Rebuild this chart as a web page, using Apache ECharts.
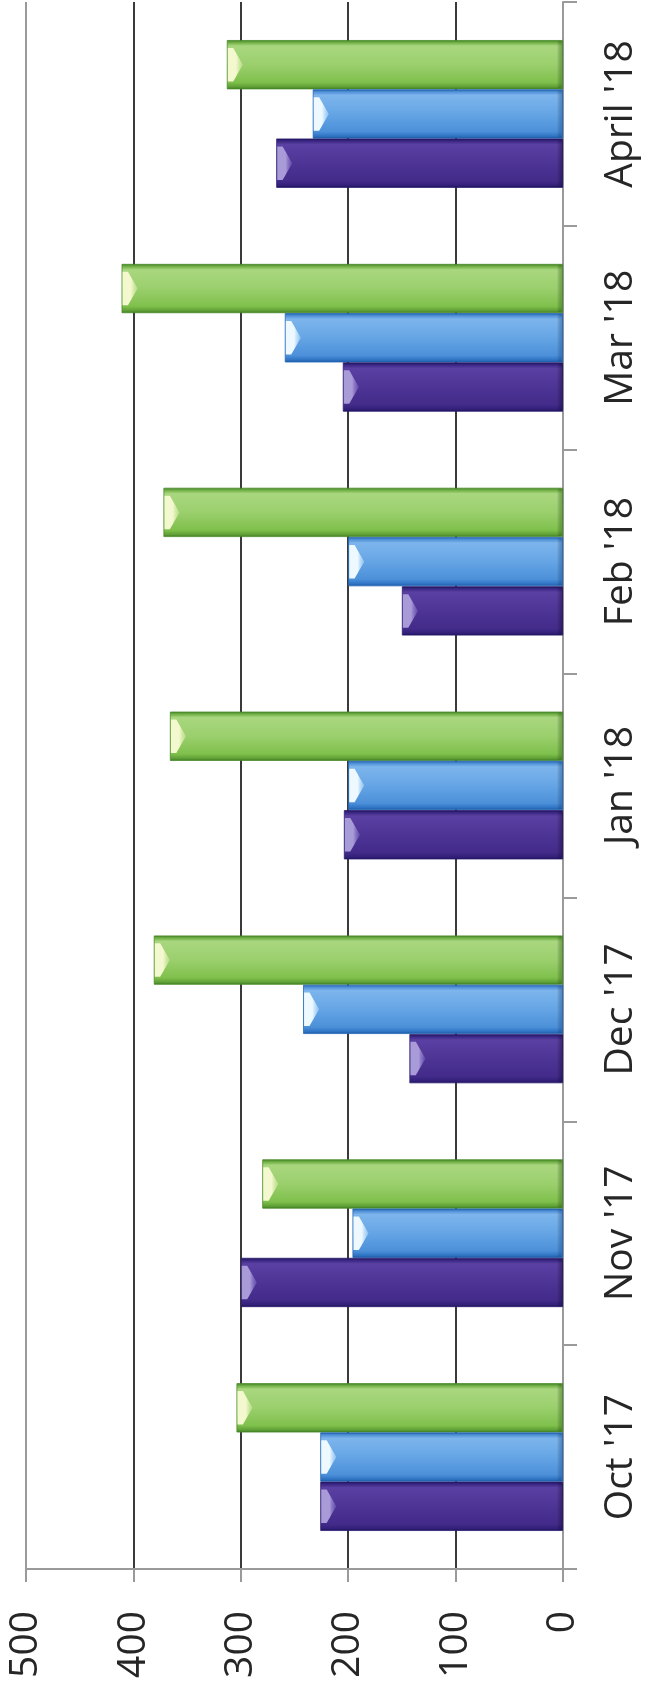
<!DOCTYPE html>
<html>
<head>
<meta charset="utf-8">
<script src="https://cdn.jsdelivr.net/npm/echarts@6/dist/echarts.min.js"></script>
<style>
  html, body { margin: 0; padding: 0; background: #ffffff; }
  #chart { width: 647px; height: 1684px; }
</style>
</head>
<body>
<div id="chart"></div>
<script>
// Monthly figures, three series per month
const months = ["Oct '17", "Nov '17", "Dec '17", "Jan '18", "Feb '18", "Mar '18", "April '18"];
const purpleValues = [226, 300, 143, 204, 150, 205, 267];
const blueValues   = [226, 196, 242, 200, 200, 259, 233];
const greenValues  = [304, 280, 381, 366, 372, 411, 313];
const valueTicks   = [0, 100, 200, 300, 400, 500];

const CATEGORY_GAP = 0.34;   // share of each band left empty
const FONT = "'Open Sans', 'Liberation Sans', sans-serif";

const palettes = {
  green: {
    body: [[0, '#3f7f22'], [0.05, '#6fae45'], [0.12, '#a9d77f'], [0.5, '#9bcf6d'], [0.86, '#7fc04c'], [0.95, '#5f9f36'], [1, '#3c7a20']],
    cap: '#f4f8cf', capMid: 'rgba(200,230,150,0.6)', base: 'rgba(70,140,40,0.55)', border: '#4a8a2a'
  },
  blue: {
    body: [[0, '#1b5aa8'], [0.05, '#4f8fd6'], [0.12, '#7db5ec'], [0.5, '#65a5e5'], [0.86, '#4c90d9'], [0.95, '#2f74c4'], [1, '#1a57a3']],
    cap: '#eef9ff', capMid: 'rgba(170,215,250,0.6)', base: 'rgba(30,100,190,0.5)', border: '#2468b5'
  },
  purple: {
    body: [[0, '#1d1358'], [0.05, '#3a2682'], [0.12, '#5a40a2'], [0.5, '#4d3495'], [0.86, '#432b8a'], [0.95, '#33207a'], [1, '#1c1256']],
    cap: '#a99ad8', capMid: 'rgba(120,100,190,0.5)', base: 'rgba(25,15,80,0.5)', border: '#2a1d70'
  }
};

function gradient(stops) {
  return {
    type: 'linear', x: 0, y: 0, x2: 0, y2: 1,
    colorStops: stops.map(s => ({ offset: s[0], color: s[1] }))
  };
}

function barSeries(name, values, pal) {
  return {
    name: name,
    type: 'bar',
    data: values,
    barGap: 0,
    barCategoryGap: (CATEGORY_GAP * 100) + '%',
    itemStyle: { color: gradient(pal.body), borderColor: pal.border, borderWidth: 0.8 },
    emphasis: { disabled: true },
    z: 2
  };
}

// Bevelled end caps drawn on top of each bar, positioned from the same scales
function capSeries(slot, values, pal) {
  return {
    type: 'custom',
    z: 3,
    silent: true,
    encode: { x: 0, y: 1 },
    data: values.map((v, i) => [v, i]),
    renderItem: function (params, api) {
      const val = api.value(0);
      const cat = api.value(1);
      const end = api.coord([val, cat]);
      const base = api.coord([0, cat]);
      const band = api.size([0, 1])[1];
      const th = band * (1 - CATEGORY_GAP) / 3;
      const top = end[1] - 1.5 * th + slot * th;
      const bot = top + th;
      const mid = (top + bot) / 2;
      const x0 = end[0];
      const xb = base[0];
      const w = Math.min(16, (xb - x0) / 3);
      return {
        type: 'group',
        children: [
          {
            type: 'polygon',
            shape: { points: [[x0 + 1, top + 0.16 * th], [x0 + w * 0.4, top + 0.16 * th], [x0 + w, mid], [x0 + w * 0.4, bot - 0.16 * th], [x0 + 1, bot - 0.16 * th]] },
            style: {
              fill: { type: 'linear', x: 0, y: 0, x2: 1, y2: 0,
                colorStops: [{ offset: 0, color: pal.cap }, { offset: 0.55, color: pal.cap }, { offset: 1, color: pal.capMid }] }
            }
          },
          {
            type: 'rect',
            shape: { x: xb - 6, y: top + 1, width: 6, height: th - 2 },
            style: {
              fill: { type: 'linear', x: 0, y: 0, x2: 1, y2: 0,
                colorStops: [{ offset: 0, color: 'rgba(0,0,0,0)' }, { offset: 1, color: pal.base }] }
            }
          }
        ]
      };
    }
  };
}

const chart = echarts.init(document.getElementById('chart'), null, { renderer: 'canvas' });

chart.setOption({
  backgroundColor: '#ffffff',
  animation: false,
  grid: { left: 26, right: 84, top: 2, bottom: 115, containLabel: false, outerBoundsMode: 'none' },
  xAxis: {
    type: 'value',
    inverse: true,
    position: 'bottom',
    min: valueTicks[0],
    max: valueTicks[valueTicks.length - 1],
    interval: valueTicks[1] - valueTicks[0],
    axisLine: { show: true, onZero: false, lineStyle: { color: '#9a9a9a', width: 2 } },
    axisTick: { show: true, length: 13, lineStyle: { color: '#9a9a9a', width: 2 } },
    axisLabel: {
      rotate: 90, margin: 42, fontSize: 39, color: '#262626', fontFamily: FONT
    },
    splitLine: {
      show: true,
      lineStyle: { color: ['#9a9a9a', '#3a3a3a', '#3a3a3a', '#3a3a3a', '#3a3a3a', '#9a9a9a'], width: 2 }
    }
  },
  yAxis: {
    type: 'category',
    position: 'right',
    data: months,
    axisLine: { show: true, lineStyle: { color: '#9a9a9a', width: 2 } },
    axisTick: { show: true, length: 14, lineStyle: { color: '#9a9a9a', width: 2 } },
    axisLabel: {
      rotate: 90, margin: 38, fontSize: 39, color: '#262626', fontFamily: FONT
    },
    splitLine: { show: false }
  },
  series: [
    barSeries('Green', greenValues, palettes.green),
    barSeries('Blue', blueValues, palettes.blue),
    barSeries('Purple', purpleValues, palettes.purple),
    capSeries(0, greenValues, palettes.green),
    capSeries(1, blueValues, palettes.blue),
    capSeries(2, purpleValues, palettes.purple)
  ]
});
</script>
</body>
</html>
